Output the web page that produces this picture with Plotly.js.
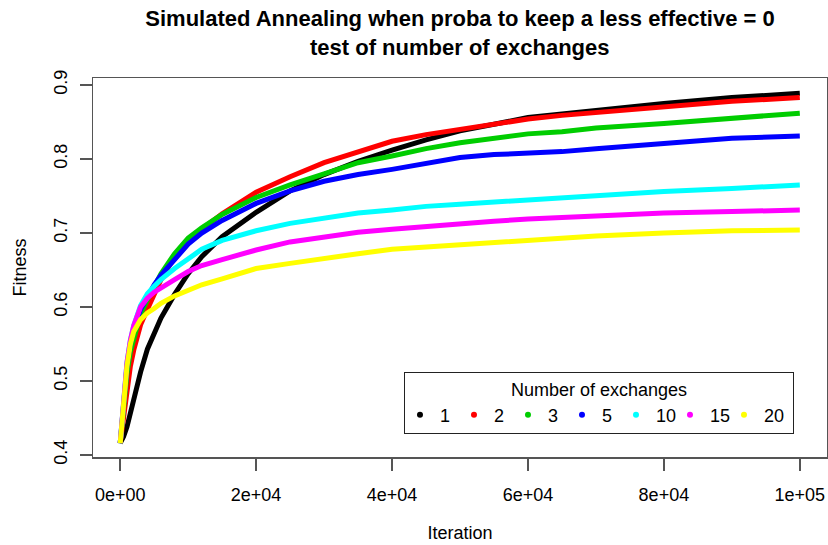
<!DOCTYPE html>
<html>
<head>
<meta charset="utf-8">
<script src="https://cdn.plot.ly/plotly-3.0.1.min.js"></script>
<style>html,body{margin:0;padding:0;background:#fff;}#chart{width:828px;height:545px;}</style>
</head>
<body>
<div id="chart"></div>
<script>
// Iteration sample points
var iterations = [0,500,1000,1500,2000,3000,4000,5000,6000,8000,10000,12000,15000,20000,25000,30000,35000,40000,45000,50000,55000,60000,65000,70000,80000,90000,100000];

// Fitness for each number of exchanges
var fit1  = [0.416,0.425,0.438,0.458,0.478,0.512,0.543,0.565,0.585,0.617,0.645,0.668,0.695,0.728,0.757,0.779,0.797,0.812,0.826,0.838,0.847,0.856,0.861,0.866,0.875,0.883,0.889];
var fit2  = [0.416,0.450,0.488,0.520,0.542,0.576,0.597,0.618,0.637,0.668,0.690,0.705,0.726,0.755,0.776,0.795,0.810,0.824,0.833,0.840,0.848,0.854,0.859,0.863,0.871,0.878,0.883];
var fit3  = [0.416,0.465,0.510,0.540,0.558,0.590,0.610,0.628,0.645,0.672,0.693,0.707,0.725,0.748,0.765,0.780,0.795,0.804,0.814,0.822,0.828,0.834,0.837,0.842,0.848,0.855,0.862];
var fit5  = [0.416,0.470,0.520,0.550,0.570,0.597,0.615,0.630,0.643,0.665,0.685,0.700,0.717,0.740,0.757,0.770,0.779,0.786,0.794,0.802,0.806,0.808,0.810,0.814,0.821,0.828,0.831];
var fit10 = [0.416,0.475,0.525,0.555,0.575,0.602,0.618,0.628,0.637,0.652,0.665,0.678,0.690,0.703,0.713,0.720,0.727,0.731,0.736,0.739,0.742,0.745,0.748,0.751,0.756,0.760,0.765];
var fit15 = [0.416,0.475,0.525,0.555,0.575,0.600,0.612,0.620,0.626,0.637,0.648,0.656,0.664,0.677,0.688,0.695,0.701,0.705,0.709,0.713,0.716,0.719,0.721,0.723,0.727,0.729,0.731];
var fit20 = [0.416,0.470,0.520,0.550,0.567,0.583,0.592,0.598,0.605,0.615,0.623,0.630,0.638,0.652,0.659,0.666,0.672,0.678,0.681,0.684,0.687,0.690,0.693,0.696,0.700,0.703,0.704];

var seriesNames = ['1','2','3','5','10','15','20'];
var seriesValues = [fit1, fit2, fit3, fit5, fit10, fit15, fit20];
var seriesColors = ['#000000','#FF0000','#00CD00','#0000FF','#00FFFF','#FF00FF','#FFFF00'];

var xTickVals = [0,20000,40000,60000,80000,100000];
var xTickText = ['0e+00','2e+04','4e+04','6e+04','8e+04','1e+05'];
var yTickVals = [0.4,0.5,0.6,0.7,0.8,0.9];
var yTickText = ['0.4','0.5','0.6','0.7','0.8','0.9'];

var FONT = '"Liberation Sans", Arial, Helvetica, sans-serif';
var traces = [];
for (var i = 0; i < seriesNames.length; i++) {
  traces.push({
    type: 'scatter', mode: 'lines', x: iterations, y: seriesValues[i],
    line: {color: seriesColors[i], width: 5}, showlegend: false, hoverinfo: 'skip'
  });
}
for (var j = 0; j < seriesNames.length; j++) {
  var t = {
    type: 'scatter', mode: 'markers', x: [null], y: [null], name: seriesNames[j],
    marker: {color: seriesColors[j], size: 6}, showlegend: true
  };
  if (j === seriesNames.length - 1) t.legendwidth = 24;
  traces.push(t);
}

var axisCommon = {
  showgrid: false, zeroline: false, showline: true, mirror: true, automargin: false,
  linecolor: '#555', linewidth: 1.5, ticks: 'outside', ticklen: 12, tickcolor: '#555', tickwidth: 1.5,
  tickfont: {family: FONT, size: 18, color: '#000'}
};

var layout = {
  width: 828, height: 545,
  margin: {l: 93, r: 1, t: 78, b: 88},
  paper_bgcolor: '#fff', plot_bgcolor: '#fff',
  font: {family: FONT, color: '#000'},
  title: {text: 'Simulated Annealing when proba to keep a less effective = 0',
          font: {family: FONT, size: 22, weight: 'bold', color: '#000'},
          x: 0.5, xref: 'paper', xanchor: 'center', y: 1 - 18/545, yref: 'container', yanchor: 'middle'},
  annotations: [{text: 'test of number of exchanges', xref: 'paper', yref: 'paper', x: 0.5, y: 1 + 31/379,
                 xanchor: 'center', yanchor: 'middle', showarrow: false,
                 font: {family: FONT, size: 22, weight: 'bold', color: '#000'}}],
  xaxis: Object.assign({}, axisCommon, {
    range: [-4000, 104000], tickmode: 'array', tickvals: xTickVals, ticktext: xTickText,
    ticklabelstandoff: 9,
    title: {text: 'Iteration', font: {family: FONT, size: 18, color: '#000'}, standoff: 22}
  }),
  yaxis: Object.assign({}, axisCommon, {
    range: [0.3973, 0.9095], tickmode: 'array', tickvals: yTickVals, ticktext: yTickText,
    tickangle: -90, ticklabelstandoff: 5,
    title: {text: 'Fitness', font: {family: FONT, size: 18, color: '#000'}, standoff: 20}
  }),
  legend: {
    orientation: 'h', x: 0.4237, y: 0.224, xanchor: 'left', yanchor: 'top',
    bgcolor: '#fff', bordercolor: '#222', borderwidth: 1,
    font: {family: FONT, size: 18, color: '#000'},
    title: {text: 'Number of exchanges', side: 'top center', font: {family: FONT, size: 18, color: '#000'}},
    entrywidth: 14, indentation: -5, traceorder: 'normal'
  },
  showlegend: true
};

Plotly.newPlot('chart', traces, layout, {displayModeBar: false, staticPlot: true});
</script>
</body>
</html>
